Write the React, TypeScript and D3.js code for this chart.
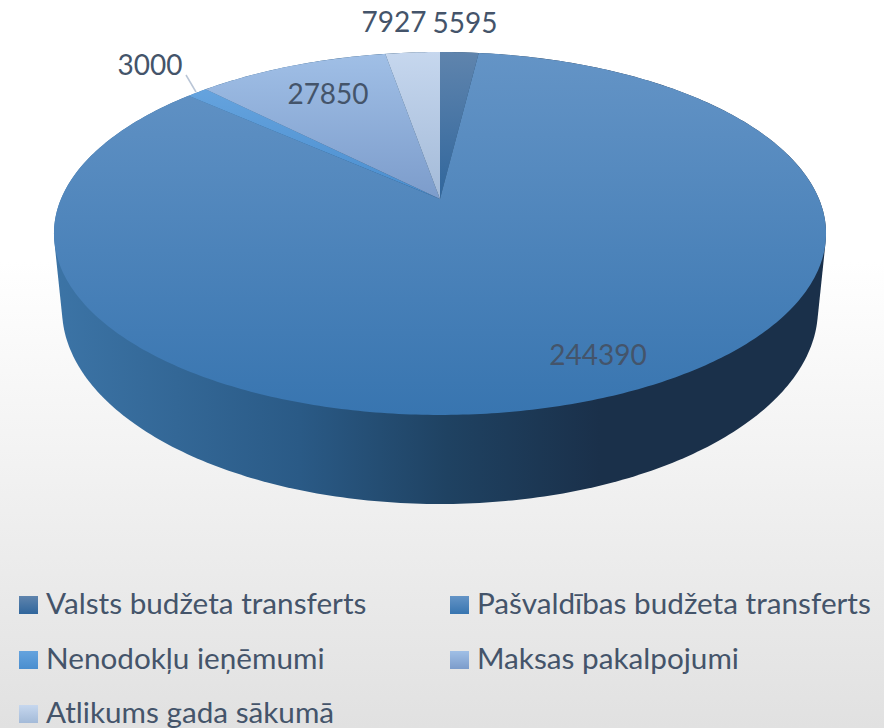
import React from "react";
import * as d3 from "d3";

const categories = ["Valsts budžeta transferts", "Pašvaldības budžeta transferts", "Nenodokļu ieņēmumi", "Maksas pakalpojumi", "Atlikums gada sākumā"];
const values = [5595, 244390, 3000, 27850, 7927];

const W = 884, H = 728;
const colorsTop = ["#5f84ad", "#6494c6", "#65a3de", "#a0bfe6", "#c6d7ee"];
const colorsBottom = ["#30669c", "#3875b0", "#4a8ecf", "#7c9ccb", "#a3bad8"];
const labelPos = [[465, 33], [598, 365], [150, 75], [328, 104], [394, 32]];
const legendPos = [[19, 614], [450, 614], [19, 669], [450, 669], [19, 723]];

// perspective projection of the pie's unit circle on the screen
const cx = 440, cy = 199, k = -0.19, a = 379, b = 174.9;
const proj = (theta: number): [number, number] => {
  const X = Math.sin(theta), Y = -Math.cos(theta);
  const d = 1 + k * Y;
  return [cx + (a * X) / d, cy + (b * Y) / d];
};
const pieGen = d3.pie<number>().sort(null).startAngle(0).endAngle(2 * Math.PI);
const arcs = pieGen(values);
const line = d3.line();
const slicePath = (s: number, e: number) => {
  const n = Math.max(2, Math.ceil((e - s) * 80));
  const pts: [number, number][] = [[cx, cy]];
  d3.range(n + 1).forEach((i) => pts.push(proj(s + ((e - s) * i) / n)));
  return line(pts) + "Z";
};
// side wall: hull of top rim and lower rim
const rimTop: [number, number][] = d3.range(360).map((i) => proj((i * Math.PI) / 180));
const rimBottom: [number, number][] = d3.range(360).map((i) => {
  const t = (i * Math.PI) / 180;
  return [440 + 378 * Math.cos(t), 309 + 195 * Math.sin(t)] as [number, number];
});
const hull = d3.polygonHull([...rimTop, ...rimBottom])!;

export default function App() {
  return (
    <svg width={W} height={H} viewBox={`0 0 ${W} ${H}`} style={{ position: "absolute", left: 0, top: 0 }} fontFamily="Lato, sans-serif">
      <defs>
        <linearGradient id="bg" x1="0" y1="0" x2="0" y2="1">
          <stop offset="0.36" stopColor="#ffffff" />
          <stop offset="1" stopColor="#e1e1e1" />
        </linearGradient>
        <linearGradient id="wall" gradientUnits="userSpaceOnUse" x1="54" y1="0" x2="600" y2="0">
          <stop offset="0" stopColor="#3c74a6" />
          <stop offset="0.45" stopColor="#2a5a86" />
          <stop offset="0.72" stopColor="#1f4262" />
          <stop offset="1" stopColor="#1a304a" />
        </linearGradient>
        {categories.map((_, i) => (
          <linearGradient key={i} id={`g${i}`} x1="0" y1="0" x2="0" y2="1">
            <stop offset="0" stopColor={colorsTop[i]} />
            <stop offset="1" stopColor={colorsBottom[i]} />
          </linearGradient>
        ))}
      </defs>
      <rect width={W} height={H} fill="url(#bg)" />
      <path d={line(hull) + "Z"} fill="url(#wall)" />
      {arcs.map((d, i) => (
        <path key={i} d={slicePath(d.startAngle, d.endAngle)} fill={`url(#g${i})`} />
      ))}
      <line x1={186} y1={75} x2={196} y2={92} stroke="#b9c5d6" strokeWidth={1.5} />
      {values.map((v, i) => (
        <text key={i} x={labelPos[i][0]} y={labelPos[i][1]} textAnchor="middle" fontSize={28} fill="#44546a">{v}</text>
      ))}
      {categories.map((c, i) => (
        <g key={c}>
          <rect x={legendPos[i][0]} y={legendPos[i][1] - 18} width={19} height={18} fill={`url(#g${i})`} />
          <text x={legendPos[i][0] + 27} y={legendPos[i][1]} fontSize={29.7} fill="#44546a">{c}</text>
        </g>
      ))}
    </svg>
  );
}
